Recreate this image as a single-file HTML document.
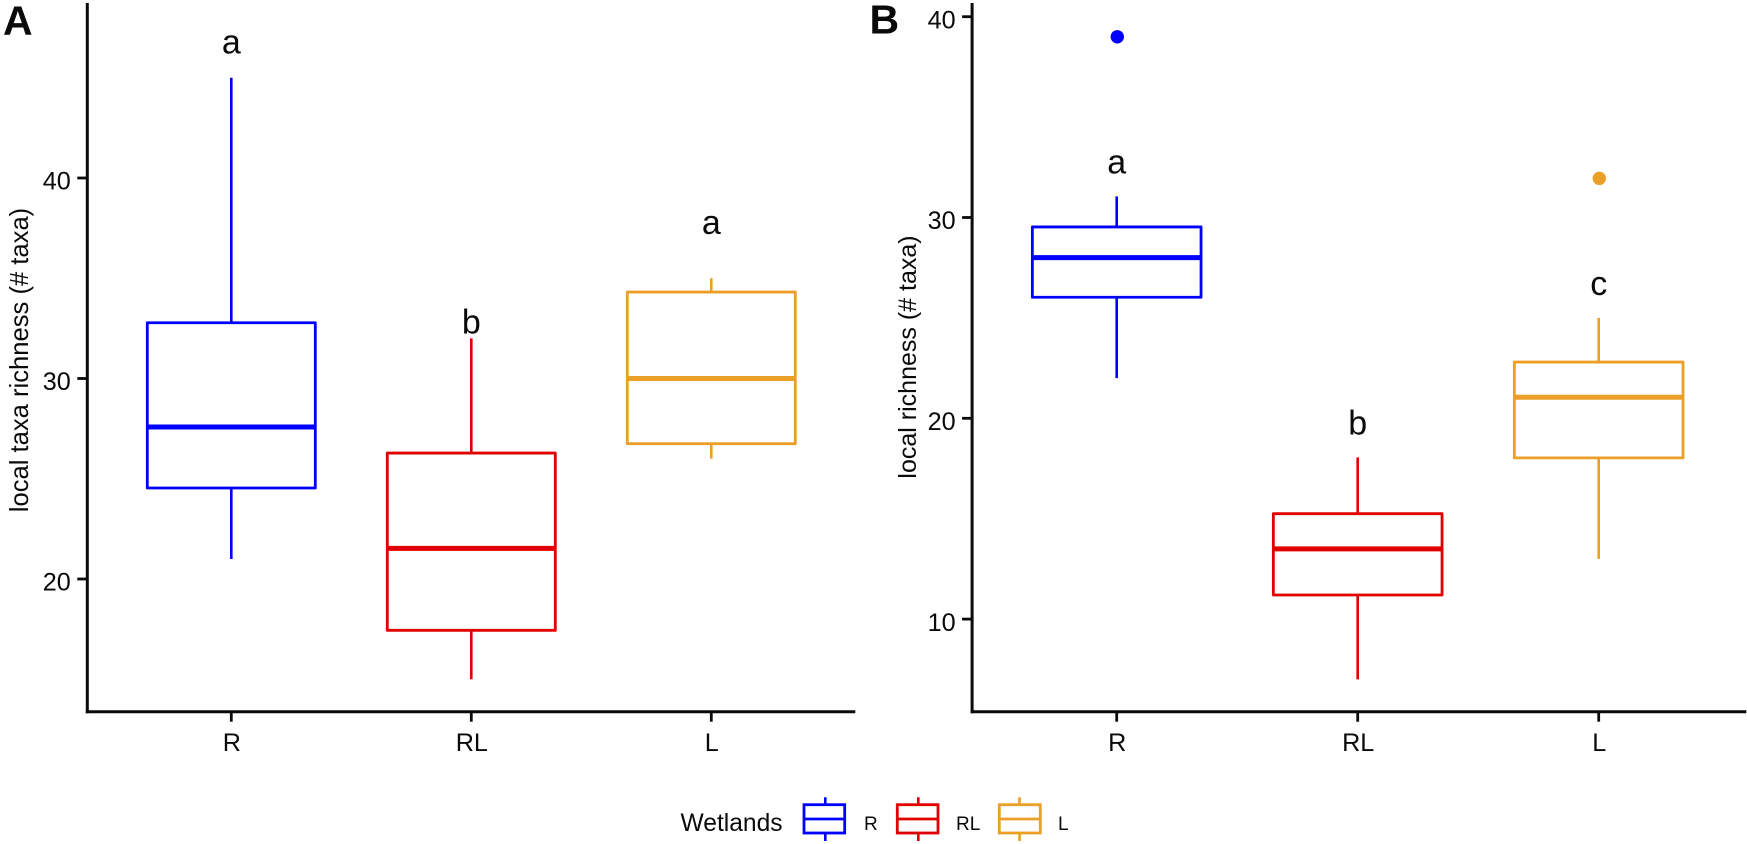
<!DOCTYPE html>
<html lang="en">
<head>
<meta charset="utf-8">
<title>Local taxa richness by wetland type</title>
<style>
html,body{margin:0;padding:0;background:#fff;width:1747px;height:844px;overflow:hidden}
svg{display:block}
text{font-family:"Liberation Sans",Arial,sans-serif;fill:#0a0a0a}
</style>
</head>
<body>
<svg id="chart" xmlns="http://www.w3.org/2000/svg" width="1747" height="844" viewBox="0 0 1747 844">
  <rect x="0" y="0" width="1747" height="844" fill="#ffffff"/>
  <text x="3" y="34.5" font-size="41" font-weight="700" fill="#000">A</text>
  <text x="869.5" y="33.5" font-size="41" font-weight="700" fill="#000">B</text>
  <g id="panel-a"></g>
  <g id="panel-b"></g>
  <g>
    <text x="680.5" y="831" font-size="24.6">Wetlands</text>
    <g stroke="#0000ff" fill="none">
      <path d="M825.3 797.3V804.7M825.3 833V841" stroke-width="2.6"/>
      <rect x="804" y="804.7" width="40.7" height="28.3" stroke-width="2.8"/>
      <path d="M804 819H844.7" stroke-width="2.8"/>
    </g>
    <text x="864" y="830" font-size="19">R</text>
    <g stroke="#e00000" fill="none">
      <path d="M918.3 797.3V804.7M918.3 833V841" stroke-width="2.6"/>
      <rect x="897.3" y="804.7" width="40.7" height="28.3" stroke-width="2.8"/>
      <path d="M897.3 819H938" stroke-width="2.8"/>
    </g>
    <text x="956" y="830" font-size="19">RL</text>
    <g stroke="#ec9f26" fill="none">
      <path d="M1019.5 797.3V804.7M1019.5 833V841" stroke-width="2.6"/>
      <rect x="999.3" y="804.7" width="41" height="28.3" stroke-width="2.8"/>
      <path d="M999.3 819H1040.3" stroke-width="2.8"/>
    </g>
    <text x="1058" y="830" font-size="19">L</text>
  </g>
</svg>
<script>
const categories = ['R', 'RL', 'L'];
const seriesColors = ['#0000ff', '#e00000', '#ec9f26'];

const panelATicks = [20, 30, 40];
const panelAWhiskerLow = [21, 15, 26];
const panelAQ1 = [24.54, 17.44, 26.75];
const panelAMedian = [27.58, 21.53, 30];
const panelAQ3 = [32.78, 26.28, 34.31];
const panelAWhiskerHigh = [45, 32, 35];
const panelAOutliers = [[], [], []];
const panelALetters = ['a', 'b', 'a'];
const panelALetterValues = [46.2, 32.25, 37.2];

const panelBTicks = [10, 20, 30, 40];
const panelBWhiskerLow = [22, 7, 13];
const panelBQ1 = [26.03, 11.2, 18.03];
const panelBMedian = [28, 13.5, 21.05];
const panelBQ3 = [29.53, 15.25, 22.8];
const panelBWhiskerHigh = [31.05, 18.05, 25];
const panelBOutliers = [[39], [], [31.95]];
const panelBLetters = ['a', 'b', 'c'];
const panelBLetterValues = [32.2, 19.2, 26.15];

const NS = 'http://www.w3.org/2000/svg';

function make(parent, tag, attrs, text) {
  const el = document.createElementNS(NS, tag);
  for (const k in attrs) el.setAttribute(k, attrs[k]);
  if (text !== undefined) el.textContent = text;
  parent.appendChild(el);
  return el;
}

function drawPanel(rootId, cfg) {
  const root = document.getElementById(rootId);
  const yScale = v => cfg.y40 + (40 - v) * cfg.unit;
  const xScale = i => cfg.x0 + i * cfg.band;
  const halfBox = cfg.band * 0.35;
  const axisY = 711.7;
  const axisX = cfg.x0 - cfg.band * 0.6;
  const axisRight = xScale(categories.length - 1) + cfg.band * 0.6 + cfg.rightExtra;

  const yAxis = make(root, 'line', {x1: axisX, x2: axisX, y1: 3, y2: axisY + 1.5, stroke: '#0a0a0a', 'stroke-width': 3});
  
  
  const xAxis = make(root, 'line', {x1: axisX - 1.5, x2: axisRight, y1: axisY, y2: axisY, stroke: '#0a0a0a', 'stroke-width': 3});
  
  

  const title = make(root, 'text', {
    x: cfg.titleX, y: cfg.titleY, 'font-size': cfg.titleSize, 'text-anchor': 'middle',
    transform: 'rotate(-90 ' + cfg.titleX + ' ' + cfg.titleY + ')'
  }, cfg.title);
  
  

  cfg.ticks.forEach(t => {
    const py = yScale(t);
    const tick = make(root, 'line', {x1: axisX - 10, x2: axisX, y1: py, y2: py, stroke: '#0a0a0a', 'stroke-width': 2.8});
    
    
    const label = make(root, 'text', {x: axisX - 16.5, y: py + 11.7, 'font-size': 25.2, 'text-anchor': 'end'}, String(t));
    
    
  });

  categories.forEach((cat, i) => {
    const cx = xScale(i);
    const color = seriesColors[i];
    const key = cat.toLowerCase();

    const tick = make(root, 'line', {x1: cx, x2: cx, y1: axisY, y2: axisY + 10, stroke: '#0a0a0a', 'stroke-width': 2.8});
    
    
    const label = make(root, 'text', {x: cx + 0.5, y: 751, 'font-size': 25.2, 'text-anchor': 'middle'}, cat);
    
    

    const upper = make(root, 'line', {x1: cx, x2: cx, y1: yScale(cfg.high[i]), y2: yScale(cfg.q3[i]), stroke: color, 'stroke-width': 2.6});
    
    
    const lower = make(root, 'line', {x1: cx, x2: cx, y1: yScale(cfg.q1[i]), y2: yScale(cfg.low[i]), stroke: color, 'stroke-width': 2.6});
    
    

    const box = make(root, 'rect', {
      x: cx - halfBox, y: yScale(cfg.q3[i]), width: halfBox * 2,
      height: yScale(cfg.q1[i]) - yScale(cfg.q3[i]),
      fill: '#ffffff', stroke: color, 'stroke-width': 2.8, 'stroke-linejoin': 'round'
    });
    
    

    const median = make(root, 'line', {x1: cx - halfBox, x2: cx + halfBox, y1: yScale(cfg.median[i]), y2: yScale(cfg.median[i]), stroke: color, 'stroke-width': 5});
    
    

    cfg.outliers[i].forEach(v => {
      const dot = make(root, 'circle', {cx: cx + 0.6, cy: yScale(v), r: 6.7, fill: color});
      
      
    });

    const letter = make(root, 'text', {x: cx, y: yScale(cfg.letterValues[i]), 'font-size': 34, 'text-anchor': 'middle', fill: '#000'}, cfg.letters[i]);
    
    
  });
}

drawPanel('panel-a', {
  x0: 231.3, band: 240, y40: 178, unit: 20.05, rightExtra: 0,
  ticks: panelATicks, low: panelAWhiskerLow, q1: panelAQ1, median: panelAMedian,
  q3: panelAQ3, high: panelAWhiskerHigh, outliers: panelAOutliers,
  letters: panelALetters, letterValues: panelALetterValues,
  title: 'local taxa richness (# taxa)', titleX: 28, titleY: 360, titleSize: 25.6
});

drawPanel('panel-b', {
  x0: 1116.7, band: 241, y40: 16.7, unit: 20.08, rightExtra: 3,
  ticks: panelBTicks, low: panelBWhiskerLow, q1: panelBQ1, median: panelBMedian,
  q3: panelBQ3, high: panelBWhiskerHigh, outliers: panelBOutliers,
  letters: panelBLetters, letterValues: panelBLetterValues,
  title: 'local richness (# taxa)', titleX: 916, titleY: 357, titleSize: 25
});
</script>
</body>
</html>
